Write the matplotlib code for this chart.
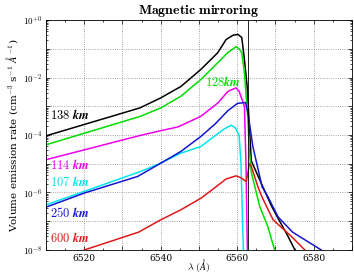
import matplotlib
matplotlib.use('Agg')
import numpy as np
import matplotlib.pyplot as plt
from matplotlib.ticker import MultipleLocator, LogLocator, FixedLocator, FuncFormatter

plt.rcParams['font.family'] = 'serif'
plt.rcParams['mathtext.fontset'] = 'cm'

# wavelength (A) and log10 of the volume emission rate for each altitude
lam_138 = [6510, 6534.5, 6540, 6545.3, 6550.5, 6554.9, 6557.1, 6558.9, 6560.2, 6561.2,
           6561.9, 6562.6, 6563.1, 6563.7, 6565.9, 6568.9, 6570.7, 6573.0, 6575.1, 6576.0]
log_138 = [-4.03, -3.06, -2.71, -2.31, -1.72, -1.14, -0.68, -0.53, -0.50, -0.61,
           -1.38, -2.30, -3.50, -4.90, -5.56, -6.45, -6.90, -7.45, -8.0, -8.3]

lam_128 = [6510, 6534.7, 6540, 6545.3, 6550.5, 6554.9, 6557.5, 6559.7, 6560.5, 6561.2,
           6561.9, 6562.8, 6563.2, 6563.7, 6565.9, 6568.0, 6569.8, 6570.5]
log_128 = [-4.34, -3.35, -3.06, -2.65, -2.07, -1.49, -1.14, -0.93, -1.0, -1.14,
           -1.84, -3.47, -4.6, -5.3, -6.49, -7.18, -8.0, -8.3]

lam_114 = [6510, 6534.5, 6540, 6544.5, 6550.5, 6555.0, 6557.6, 6559.7, 6560.5, 6561.9, 6562.3, 6562.7]
log_114 = [-4.86, -4.02, -3.85, -3.72, -3.35, -2.88, -2.48, -2.36, -2.48, -3.0, -5.0, -8.3]

lam_107 = [6510, 6534.7, 6540, 6545.3, 6550.5, 6554.0, 6556.5, 6558.4, 6559.5, 6560.5,
           6561.0, 6561.4, 6561.7]
log_107 = [-6.43, -5.27, -4.98, -4.63, -4.40, -4.05, -3.80, -3.66, -3.75, -4.0,
           -5.0, -7.0, -8.3]

lam_250 = [6510, 6520, 6534, 6540, 6545.3, 6550.5, 6554.2, 6557.6, 6560.1, 6562.2,
           6562.8, 6564.1, 6565.9, 6566.5, 6568.0, 6570.7, 6574.5, 6582.0, 6583.0]
log_250 = [-6.51, -6.02, -5.44, -4.98, -4.57, -4.05, -3.62, -3.15, -2.90, -2.87,
           -3.23, -4.40, -5.44, -5.80, -6.14, -6.85, -7.38, -8.0, -8.1]

lam_600 = [6515, 6520, 6534.2, 6540, 6545.3, 6550.5, 6554.0, 6557.1, 6559.7, 6561.0,
           6562.4, 6563.2, 6563.6, 6565.4, 6566.3, 6568.1, 6569.4, 6574.2, 6577.7, 6578.5]
log_600 = [-8.3, -8.0, -7.38, -6.95, -6.6, -6.2, -5.85, -5.53, -5.42, -5.49,
           -5.62, -5.0, -5.05, -5.79, -6.1, -6.6, -6.95, -7.53, -8.0, -8.2]

halpha = 6562.8

series = [
    (lam_138, log_138, 'black', r'$\mathbf{138}\ \mathbfit{km}$', 6511, -3.29),
    (lam_128, log_128, '#00dd00', r'$\mathbf{128}\mathbfit{km}$', 6551.6, -2.17),
    (lam_114, log_114, '#ee00ee', r'$\mathbf{114}\ \mathbfit{km}$', 6511, -5.03),
    (lam_107, log_107, '#00e5ee', r'$\mathbf{107}\ \mathbfit{km}$', 6511, -5.65),
    (lam_250, log_250, '#1515d0', r'$\mathbf{250}\ \mathbfit{km}$', 6511, -6.72),
    (lam_600, log_600, '#e01818', r'$\mathbf{600}\ \mathbfit{km}$', 6511, -7.59),
]

fig = plt.figure(figsize=(3.54, 2.74), dpi=100)
ax = fig.add_axes([0.13, 0.0876, 0.864, 0.8394])

for lam, lg, color, label, tx, ty in series:
    ax.plot(lam, 10.0 ** np.array(lg), color=color, lw=1.1)
    ax.text(tx, 10.0 ** ty, label, color=color, fontsize=9, va='center', ha='left')

ax.axvline(halpha, color='black', lw=0.6)

ax.set_yscale('log')
ax.set_xlim(6510, 6590)
ax.set_ylim(1e-8, 1e0)

ax.xaxis.set_major_locator(MultipleLocator(10))
ax.xaxis.set_minor_locator(MultipleLocator(5))
ax.xaxis.set_major_formatter(FuncFormatter(lambda v, p: f'{v:.0f}' if int(round(v)) % 20 == 0 else ''))
ax.yaxis.set_major_locator(FixedLocator([10.0 ** k for k in range(-8, 1)]))
ax.yaxis.set_minor_locator(LogLocator(base=10, subs=np.arange(2, 10), numticks=20))


def yfmt(v, p):
    k = int(round(np.log10(v)))
    if k % 2:
        return ''
    return r'$10^{+0}$' if k == 0 else r'$10^{%d}$' % k


ax.yaxis.set_major_formatter(FuncFormatter(yfmt))
ax.yaxis.set_minor_formatter(FuncFormatter(lambda v, p: ''))
ax.tick_params(which='both', direction='in', top=True, right=True, labelsize=6.5, pad=3)
ax.tick_params(which='major', length=3, width=0.5)
ax.tick_params(which='minor', length=1.5, width=0.5)
for s in ax.spines.values():
    s.set_linewidth(0.6)
ax.grid(True, which='major', color='#888888', linestyle=':', linewidth=0.6)

ax.set_title(r'$\mathbf{Magnetic\ mirroring}$', fontsize=10, pad=4)
ax.set_xlabel(r'$\lambda\ (\AA)$', fontsize=7)
ax.xaxis.set_label_coords(0.5, -0.03)
ax.set_ylabel(r'Volume emission rate (cm$^{-3}$ s$^{-1}$ $\AA^{-1}$)', fontsize=7.5, labelpad=2)

fig.savefig('out.png', dpi=100)
